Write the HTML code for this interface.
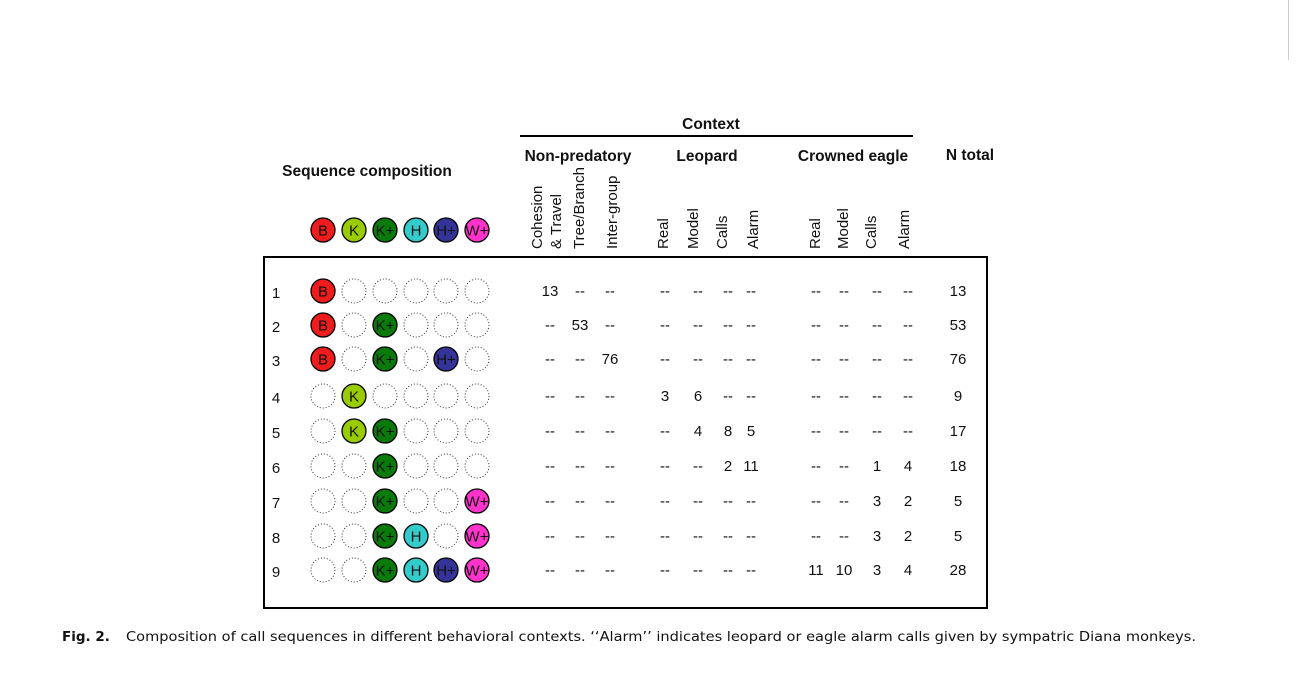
<!DOCTYPE html>
<html><head><meta charset="utf-8"><style>
html,body{margin:0;padding:0;background:#fff;}
svg{display:block;}
text{font-family:"Liberation Sans",Arial,sans-serif;fill:#111;}
.b{font-weight:bold;font-size:15.5px;}
.n{font-size:15px;}
.cap{font-family:"DejaVu Sans","Liberation Sans",sans-serif;font-size:13.5px;}
</style></head><body>
<svg width="1298" height="687" viewBox="0 0 1298 687" xmlns="http://www.w3.org/2000/svg">
<rect width="1298" height="687" fill="#fff"/>
<line x1="1288.5" y1="0" x2="1288.5" y2="60" stroke="#ccc" stroke-width="1"/>
<text class="b" x="711" y="129" text-anchor="middle">Context</text>
<line x1="520" y1="136" x2="913" y2="136" stroke="#000" stroke-width="2"/>
<text class="b" x="578" y="161" text-anchor="middle">Non-predatory</text>
<text class="b" x="707" y="161" text-anchor="middle">Leopard</text>
<text class="b" x="853" y="161" text-anchor="middle">Crowned eagle</text>
<text class="b" x="970" y="160" text-anchor="middle">N total</text>
<text class="b" x="367" y="176" text-anchor="middle">Sequence composition</text>
<text class="n" transform="translate(542,249) rotate(-90)">Cohesion</text>
<text class="n" transform="translate(561,249) rotate(-90)">&amp; Travel</text>
<text class="n" transform="translate(584,249) rotate(-90)">Tree/Branch</text>
<text class="n" transform="translate(617,249) rotate(-90)">Inter-group</text>
<text class="n" transform="translate(668,249) rotate(-90)">Real</text>
<text class="n" transform="translate(698,249) rotate(-90)">Model</text>
<text class="n" transform="translate(727,249) rotate(-90)">Calls</text>
<text class="n" transform="translate(758,249) rotate(-90)">Alarm</text>
<text class="n" transform="translate(820,249) rotate(-90)">Real</text>
<text class="n" transform="translate(848,249) rotate(-90)">Model</text>
<text class="n" transform="translate(876,249) rotate(-90)">Calls</text>
<text class="n" transform="translate(909,249) rotate(-90)">Alarm</text>
<rect x="264" y="257" width="723" height="351" fill="none" stroke="#000" stroke-width="2"/>
<text class="cap" x="62" y="641" font-weight="bold">Fig. 2.</text>
<text class="cap" x="126" y="641" textLength="1070" lengthAdjust="spacingAndGlyphs">Composition of call sequences in different behavioral contexts. ‘‘Alarm’’ indicates leopard or eagle alarm calls given by sympatric Diana monkeys.</text>
</svg>
<script>
var ns="http://www.w3.org/2000/svg";
var svg=document.querySelector('svg');
var cx=[323,354,385,416,446,477];
var cols={B:'#ee1c1c',K:'#99cc00','K+':'#0a7a0a',H:'#33cccc','H+':'#333399','W+':'#ff33cc'};
var keys=['B','K','K+','H','H+','W+'];
function circ(x,y,k){
  var c=document.createElementNS(ns,'circle');
  c.setAttribute('cx',x);c.setAttribute('cy',y);c.setAttribute('r',12);
  if(k){c.setAttribute('fill',cols[k]);c.setAttribute('stroke','#000');c.setAttribute('stroke-width','1.3');}
  else{c.setAttribute('fill','none');c.setAttribute('stroke','#333');c.setAttribute('stroke-width','1');c.setAttribute('stroke-dasharray','1 2');}
  svg.appendChild(c);
  if(k){var t=document.createElementNS(ns,'text');t.setAttribute('x',x);t.setAttribute('y',y+5.5);
  t.setAttribute('text-anchor','middle');t.setAttribute('font-size','15');t.textContent=k;svg.appendChild(t);}
}
function txt(x,y,s){var t=document.createElementNS(ns,'text');t.setAttribute('x',x);t.setAttribute('y',y);
  t.setAttribute('text-anchor','middle');t.setAttribute('font-size','15');t.textContent=s;svg.appendChild(t);}
keys.forEach(function(k,i){circ(cx[i],230,k);});
var rows=[
[[1,0,0,0,0,0],['13','--','--','--','--','--','--','--','--','--','--','13']],
[[1,0,1,0,0,0],['--','53','--','--','--','--','--','--','--','--','--','53']],
[[1,0,1,0,1,0],['--','--','76','--','--','--','--','--','--','--','--','76']],
[[0,1,0,0,0,0],['--','--','--','3','6','--','--','--','--','--','--','9']],
[[0,1,1,0,0,0],['--','--','--','--','4','8','5','--','--','--','--','17']],
[[0,0,1,0,0,0],['--','--','--','--','--','2','11','--','--','1','4','18']],
[[0,0,1,0,0,1],['--','--','--','--','--','--','--','--','--','3','2','5']],
[[0,0,1,1,0,1],['--','--','--','--','--','--','--','--','--','3','2','5']],
[[0,0,1,1,1,1],['--','--','--','--','--','--','--','11','10','3','4','28']]];
var ys=[291,325,359,396,431,466,501,536,570];
var dx=[550,580,610,665,698,728,751,816,844,877,908,958];
rows.forEach(function(r,i){
  var y=ys[i];
  txt(276,y+7,String(i+1));
  r[0].forEach(function(v,j){circ(cx[j],y,v?keys[j]:null);});
  r[1].forEach(function(s,j){txt(dx[j],y+5,s);});
});
</script>
</body></html>
